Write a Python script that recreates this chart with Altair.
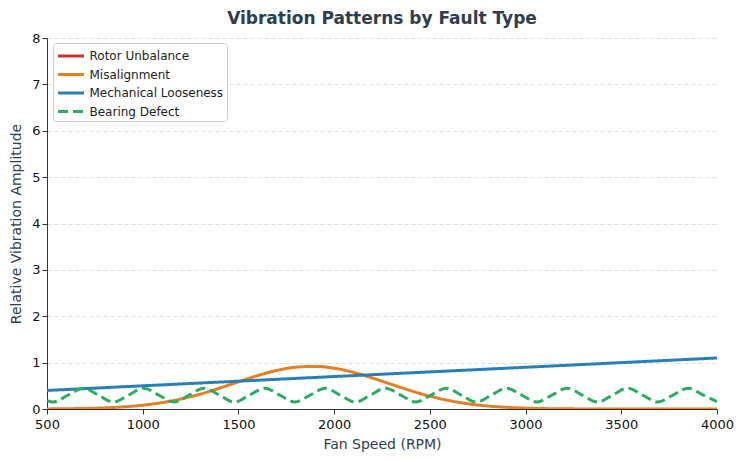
import altair as alt
import pandas as pd

# Fan speed grid for smooth curves (RPM)
rpm = [500, 600, 700, 800, 900, 1000, 1100, 1200, 1300, 1400, 1500, 1600, 1700, 1800,
       1900, 2000, 2100, 2200, 2300, 2400, 2500, 2600, 2700, 2800, 2900, 3000, 3100,
       3200, 3300, 3400, 3500, 3600, 3700, 3800, 3900, 4000]

# Rotor Unbalance: listed in the legend, but no curve is visible in the plotted range
rotor_unbalance_rpm = []
rotor_unbalance = []

misalignment = [0.002, 0.006, 0.012, 0.024, 0.046, 0.082, 0.137, 0.217, 0.32, 0.448,
                0.586, 0.72, 0.831, 0.902, 0.919, 0.88, 0.791, 0.668, 0.53, 0.395,
                0.277, 0.182, 0.113, 0.065, 0.036, 0.018, 0.009, 0.004, 0.002, 0.001,
                0.0, 0.0, 0.0, 0.0, 0.0, 0.0]
looseness_rpm = [500, 4000]
looseness = [0.40, 1.10]

# Bearing defect: read at peaks, troughs and mid-crossings
bearing_rpm = [500, 531, 610, 690, 768, 847, 926, 1005, 1084, 1163, 1242, 1321, 1400,
               1479, 1558, 1637, 1716, 1795, 1874, 1953, 2032, 2111, 2190, 2269, 2348,
               2427, 2506, 2585, 2664, 2743, 2822, 2901, 2980, 3059, 3138, 3217, 3296,
               3375, 3454, 3533, 3612, 3691, 3770, 3849, 3928, 4000]
bearing = [0.18, 0.15, 0.30, 0.45, 0.30, 0.15, 0.30, 0.45, 0.30, 0.15, 0.30, 0.45, 0.30,
           0.15, 0.30, 0.45, 0.30, 0.15, 0.30, 0.45, 0.30, 0.15, 0.30, 0.45, 0.30,
           0.15, 0.30, 0.45, 0.30, 0.15, 0.30, 0.45, 0.30, 0.15, 0.30, 0.45, 0.30,
           0.15, 0.30, 0.45, 0.30, 0.15, 0.30, 0.45, 0.30, 0.16]

series = ["Rotor Unbalance", "Misalignment", "Mechanical Looseness", "Bearing Defect"]
colors = ["#c0392b", "#e67e22", "#2980b9", "#27ae60"]
dashes = [[1, 0], [1, 0], [1, 0], [10, 5]]

rows = []
for x, y in zip(rotor_unbalance_rpm, rotor_unbalance):
    rows.append({"rpm": x, "amp": y, "fault": series[0]})
for x, y in zip(rpm, misalignment):
    rows.append({"rpm": x, "amp": y, "fault": series[1]})
for x, y in zip(looseness_rpm, looseness):
    rows.append({"rpm": x, "amp": y, "fault": series[2]})
for x, y in zip(bearing_rpm, bearing):
    rows.append({"rpm": x, "amp": y, "fault": series[3]})
df = pd.DataFrame(rows)

chart = alt.Chart(df).mark_line(strokeWidth=3, interpolate="monotone", clip=True).encode(
    x=alt.X("rpm:Q", title="Fan Speed (RPM)",
            scale=alt.Scale(domain=[500, 4000], nice=False, zero=False),
            axis=alt.Axis(values=[500, 1000, 1500, 2000, 2500, 3000, 3500, 4000],
                          grid=False, format="d", labelPadding=4, titlePadding=6,
                          labelFlush=False, labelOverlap=False)),
    y=alt.Y("amp:Q", title="Relative Vibration Amplitude",
            scale=alt.Scale(domain=[0, 8], nice=False),
            axis=alt.Axis(values=[0, 1, 2, 3, 4, 5, 6, 7, 8], grid=True,
                          gridDash=[4, 3], gridColor="#dddddd", titlePadding=8)),
    color=alt.Color("fault:N", sort=series,
                    scale=alt.Scale(domain=series, range=colors),
                    legend=alt.Legend(title=None, orient="none", legendX=6, legendY=5,
                                      symbolType="M-1,0H2.25", symbolStrokeWidth=3,
                                      symbolSize=256, labelFontSize=12, labelOffset=14,
                                      labelColor="#222222",
                                      fillColor="white", strokeColor="#cccccc",
                                      padding=3.5, cornerRadius=3, rowPadding=2.5)),
    strokeDash=alt.StrokeDash("fault:N", sort=series,
                              scale=alt.Scale(domain=series, range=dashes),
                              legend=None),
    detail="fault:N",
).properties(
    width=670,
    height=371,
    title=alt.TitleParams("Vibration Patterns by Fault Type", fontSize=17,
                          fontWeight="bold", color="#2c3e50", offset=4,
                          font="DejaVu Sans"),
    autosize=alt.AutoSizeParams(type="none"),
    padding={"left": 39, "top": 30, "right": 19, "bottom": 45},
).configure_view(stroke=None).configure_axis(
    domainColor="#333333", tickColor="#333333", labelColor="#111111",
    labelFontSize=13, titleFontSize=14, titleColor="#2c3e50",
    titleFontWeight="normal", labelFont="DejaVu Sans", titleFont="DejaVu Sans",
    tickSize=5,
).configure_legend(
    labelFont="DejaVu Sans"
)

chart.save("out.html", embed_options={"renderer": "svg", "actions": False})
